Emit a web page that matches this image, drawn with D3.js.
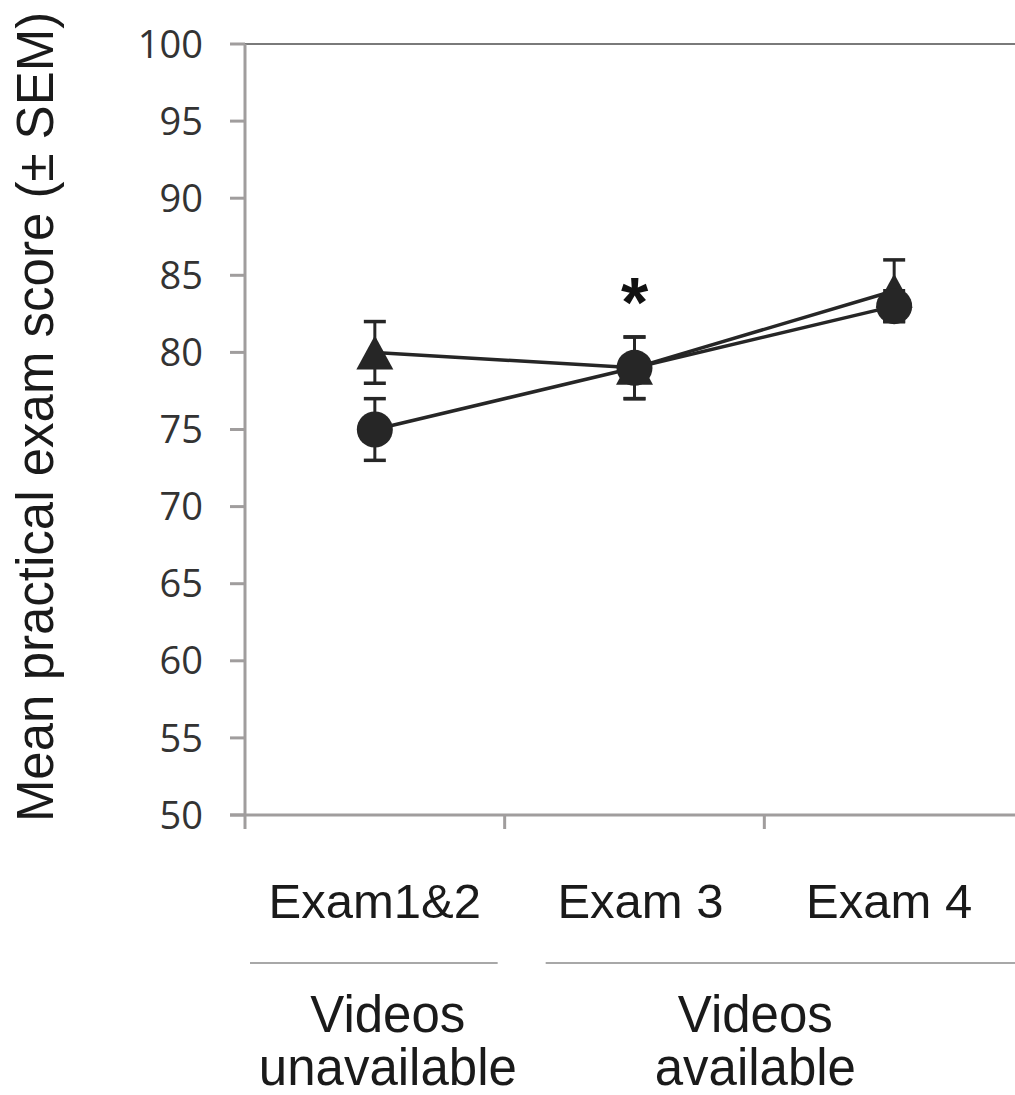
<!DOCTYPE html>
<html>
<head>
<meta charset="utf-8">
<script src="https://cdn.jsdelivr.net/npm/d3@7"></script>
<style>
  body { margin: 0; background: #fff; }
  svg { display: block; }
</style>
</head>
<body>
<div id="canvasRoot"></div>
<script>
// Data
const exams = ["Exam1&2", "Exam 3", "Exam 4"];
const triangleMean = [80, 79, 84];
const triangleSem = [2, 2, 2];
const circleMean = [75, 79, 83];
const circleSem = [2, 2, 1];
const yTicks = [50, 55, 60, 65, 70, 75, 80, 85, 90, 95, 100];
const starAt = "Exam 3";
const groups = [
  {lines: ["Videos", "unavailable"], from: "Exam1&2", to: "Exam1&2"},
  {lines: ["Videos", "available"], from: "Exam 3", to: "Exam 4"}
];

const W = 1015, H = 1095;
const svg = d3.select("#canvasRoot").append("svg")
  .attr("width", W).attr("height", H);

//Scales
const x = d3.scaleBand().domain(exams).range([245, 1024]);
const y = d3.scaleLinear().domain([50, 100]).range([815, 44]);
const cx = d => x(d) + x.bandwidth() / 2;

const axisCol = "#a09d9d";

//Top frame line
svg.append("line")
  .attr("x1", 245).attr("x2", W)
  .attr("y1", y(100)).attr("y2", y(100))
  .attr("stroke", "#7a7a7a").attr("stroke-width", 2);

//Y axis
svg.append("line")
  .attr("x1", 245).attr("x2", 245)
  .attr("y1", y(100)).attr("y2", y(50) + 14)
  .attr("stroke", axisCol).attr("stroke-width", 3);
const yt = svg.selectAll("g.ytick").data(yTicks).enter()
  .append("g").classed("ytick", true)
  .attr("transform", d => `translate(0,${y(d)})`);
yt.append("line")
  .attr("x1", 230).attr("x2", 245)
  .attr("stroke", axisCol).attr("stroke-width", 3);
yt.append("text")
  .attr("x", 203).attr("dy", "0.36em")
  .attr("text-anchor", "end")
  .attr("font-family", "'Open Sans', sans-serif")
  .attr("font-size", 38)
  .attr("fill", "#333")
  .text(d => d);

//X axis
svg.append("line")
  .attr("x1", 230).attr("x2", W)
  .attr("y1", y(50)).attr("y2", y(50))
  .attr("stroke", axisCol).attr("stroke-width", 3);
svg.selectAll("line.xtick").data(exams.slice(1)).enter()
  .append("line").classed("xtick", true)
  .attr("x1", d => x(d)).attr("x2", d => x(d))
  .attr("y1", y(50)).attr("y2", y(50) + 14)
  .attr("stroke", axisCol).attr("stroke-width", 3);

//Category labels
svg.selectAll("text.xlab").data(exams).enter()
  .append("text").classed("xlab", true)
  .attr("x", (d, i) => cx(d) + [0, 6, -5][i]).attr("y", 918)
  .attr("text-anchor", "middle")
  .attr("font-family", "'Liberation Sans', Arial, sans-serif")
  .attr("font-size", 49)
  .attr("fill", "#1a1a1a")
  .text(d => d);

//Group brackets and labels
groups.forEach((g, i) => {
  const x0 = x(g.from) + (i === 0 ? 5 : 41);
  const x1 = i === 0 ? x(g.to) + x.bandwidth() - 7 : W;
  svg.append("line")
    .attr("x1", x0).attr("x2", x1)
    .attr("y1", 963).attr("y2", 963)
    .attr("stroke", "#a8a8a8").attr("stroke-width", 2);
  const mid = i === 0 ? cx(g.from) + 13 : (x(g.from) + x(g.to) + x.bandwidth()) / 2 - 9;
  g.lines.forEach((t, j) => {
    svg.append("text")
      .attr("x", mid).attr("y", 1032 + j * 53)
      .attr("text-anchor", "middle")
      .attr("font-family", "'Liberation Sans', Arial, sans-serif")
      .attr("font-size", 51)
      .attr("fill", "#1a1a1a")
      .text(t);
  });
});

//Y axis title
svg.append("text")
  .attr("transform", `translate(53,417) rotate(-90)`)
  .attr("text-anchor", "middle")
  .attr("font-family", "'Liberation Sans', Arial, sans-serif")
  .attr("font-size", 51)
  .attr("fill", "#1a1a1a")
  .text("Mean practical exam score (\u00b1 SEM)");

//Series
const ink = "#262626";
const line = d3.line().x(d => cx(d.exam)).y(d => y(d.v));
const series = [
  {shape: "tri", pts: exams.map((e, i) => ({exam: e, v: triangleMean[i], s: triangleSem[i]}))},
  {shape: "dot", pts: exams.map((e, i) => ({exam: e, v: circleMean[i], s: circleSem[i]}))}
];

series.forEach(sr => {
  svg.append("path")
    .attr("d", line(sr.pts))
    .attr("fill", "none")
    .attr("stroke", ink)
    .attr("stroke-width", 3.5);
});

series.forEach(sr => {
  const g = svg.append("g");
  const eb = g.selectAll("g.err").data(sr.pts).enter().append("g");
  eb.append("line")
    .attr("x1", d => cx(d.exam)).attr("x2", d => cx(d.exam))
    .attr("y1", d => y(d.v - d.s)).attr("y2", d => y(d.v + d.s))
    .attr("stroke", ink).attr("stroke-width", 3);
  [-1, 1].forEach(sg => {
    eb.append("line")
      .attr("x1", d => cx(d.exam) - 11).attr("x2", d => cx(d.exam) + 11)
      .attr("y1", d => y(d.v + sg * d.s)).attr("y2", d => y(d.v + sg * d.s))
      .attr("stroke", ink).attr("stroke-width", 3.5);
  });
});

series.forEach(sr => {
  const m = svg.selectAll(null).data(sr.pts).enter();
  if (sr.shape === "dot") {
    m.append("circle")
      .attr("cx", d => cx(d.exam)).attr("cy", d => y(d.v))
      .attr("r", 18).attr("fill", ink);
  } else {
    m.append("path")
      .attr("d", d => {
        const px = cx(d.exam), py = y(d.v);
        return `M${px},${py - 17}L${px + 18.5},${py + 17}L${px - 18.5},${py + 17}Z`;
      })
      .attr("fill", ink);
  }
});

//Significance star
svg.append("text")
  .attr("x", cx(starAt)).attr("y", 327)
  .attr("text-anchor", "middle")
  .attr("font-family", "'Liberation Sans', Arial, sans-serif")
  .attr("font-size", 70)
  .attr("font-weight", "bold")
  .attr("fill", "#111")
  .text("*");
</script>
</body>
</html>
